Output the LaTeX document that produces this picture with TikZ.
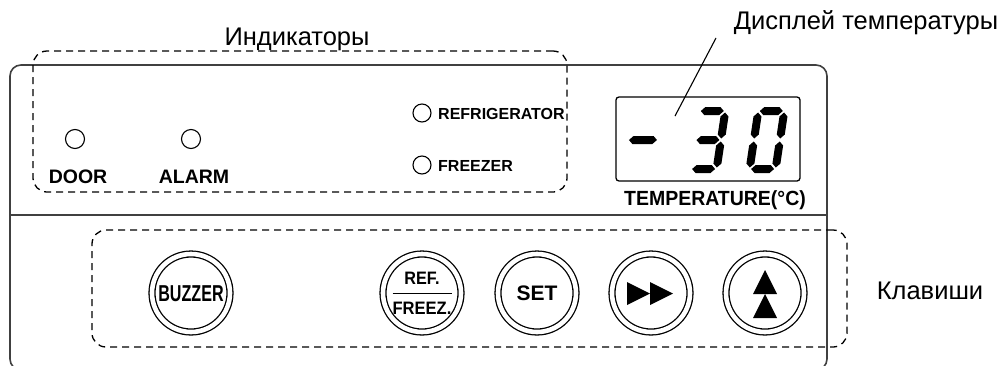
\documentclass[tikz,border=0pt]{standalone}
\usepackage{fontspec}
\setmainfont{Liberation Sans}
\newcommand\hseg[3]{\fill ({#1},{#3}) -- ({#1+4},{#3+4}) -- ({#2-4},{#3+4}) -- ({#2},{#3}) -- ({#2-4},{#3-4}) -- ({#1+4},{#3-4}) -- cycle;}
\newcommand\vseg[3]{\fill ({#1},{#2}) -- ({#1+4},{#2+4}) -- ({#1+4},{#3-4}) -- ({#1},{#3}) -- ({#1-4},{#3-4}) -- ({#1-4},{#2+4}) -- cycle;}
\begin{document}
\begin{tikzpicture}[x=1pt,y=-1pt,
  panel/.style={draw=black!75, line width=1.6pt},
  zone/.style={draw, rectangle, line width=1.3pt, dash pattern=on 7pt off 5pt, rounded corners=14pt, inner sep=0pt},
  led/.style={circle, draw, line width=1.1pt, minimum size=19pt, inner sep=0pt},
  btn/.style={circle, draw, double, double distance=4.6pt, line width=1.3pt, minimum size=78pt, inner sep=0pt},
  biglbl/.style={font=\fontsize{25.5}{25.5}\selectfont, inner sep=0pt, anchor=base},
  ledlbl/.style={font=\fontsize{19.5}{19.5}\selectfont\bfseries, inner sep=0pt, anchor=base},
  smlbl/.style={font=\fontsize{16}{16}\selectfont\bfseries, inner sep=0pt, anchor=base west},
  btntxt/.style={font=\fontsize{21}{21}\selectfont\bfseries, inner sep=0pt, anchor=base},
  leader/.style={line width=1.1pt}
]
\useasboundingbox (0,0) rectangle (1004,365);
% panel outline
\draw[panel, rounded corners=11pt] (22,370) -| (10,65) -| (827,370) -- (815,370);
\coordinate (divl) at (10,215);
\coordinate (divr) at (827,215);
\draw[panel] (divl) -- (divr);
% zones
\node[zone, minimum width=534pt, minimum height=141pt] (indzone) at (300,121.5) {};
\node[zone, minimum width=755pt, minimum height=117pt] (keyzone) at (469.5,288.5) {};
% zone labels
\node[biglbl] (indlbl) at (297,45) {Индикаторы};
\node[biglbl] (displbl) at (866,29) {Дисплей температуры};
\node[biglbl] (keylbl) at (930,299) {Клавиши};
% indicators
\node[led] (doorled) at (75,139) {};
\node[led] (alarmled) at (191,139) {};
\node[ledlbl] (doortxt) at (78,183) {DOOR};
\node[ledlbl] (alarmtxt) at (194,183) {ALARM};
\node[led, minimum size=18pt] (refled) at (422,113) {};
\node[led, minimum size=18pt] (frzled) at (422,165) {};
\node[smlbl] (reftxt) at (438,119) {REFRIGERATOR};
\node[smlbl] (frztxt) at (438,171) {FREEZER};
% display
\node[draw, rectangle, rounded corners=3pt, line width=1.3pt, minimum width=184pt, minimum height=84pt, inner sep=0pt] (disp) at (708,139) {};
\begin{scope}[shift={(624,173)}, xslant=0.15, yscale=-1]
  \hseg{0}{28}{33}
\end{scope}
\begin{scope}[shift={(686,173)}, xslant=0.15, yscale=-1]
  \hseg{5.5}{28.5}{62}
  \vseg{30}{34.5}{60.5}
  \vseg{30}{5.5}{31.5}
  \hseg{5.5}{28.5}{4}
  \hseg{5.5}{28.5}{33}
\end{scope}
\begin{scope}[shift={(745,173)}, xslant=0.15, yscale=-1]
  \hseg{5.5}{28.5}{62}
  \vseg{30}{34.5}{60.5}
  \vseg{30}{5.5}{31.5}
  \hseg{5.5}{28.5}{4}
  \vseg{4}{5.5}{31.5}
  \vseg{4}{34.5}{60.5}
\end{scope}
\node[font=\fontsize{20.5}{20.5}\selectfont\bfseries, inner sep=0pt, anchor=base] (temptxt) at (715,205.5) {\scalebox{0.95}[1]{TEMPERATURE(°C)}};
\coordinate (leadtop) at (716,38);
\coordinate (leadend) at (675,116);
\draw[leader] (leadtop) -- (leadend);
% keys
\node[btn] (buzzer) at (191,293) {};
\node[btn] (reffr) at (422,293) {};
\node[btn] (setb) at (537,293) {};
\node[btn] (fwd) at (651,293) {};
\node[btn] (upb) at (765,293) {};
\node[btntxt, font=\fontsize{23}{23}\selectfont\bfseries] (buzztxt) at (191,301) {\scalebox{0.7}[1]{BUZZER}};
\node[btntxt, font=\fontsize{18}{18}\selectfont\bfseries] (reftop) at (422,284.5) {\scalebox{0.9}[1]{REF.}};
\node[btntxt, font=\fontsize{18}{18}\selectfont\bfseries] (refbot) at (422,314.5) {\scalebox{0.92}[1]{FREEZ.}};
\draw[line width=1pt] ([xshift=-29.5pt]reffr.center) -- ([xshift=29.5pt]reffr.center);
\node[btntxt] (settxt) at (537,300.5) {SET};
\fill (627,282) -- (650,293.5) -- (627,305) -- cycle;
\fill (650,282) -- (673,293.5) -- (650,305) -- cycle;
\fill (753,294) -- (765,270) -- (777,294) -- cycle;
\fill (753,318) -- (765,294) -- (777,318) -- cycle;
\end{tikzpicture}
\end{document}
